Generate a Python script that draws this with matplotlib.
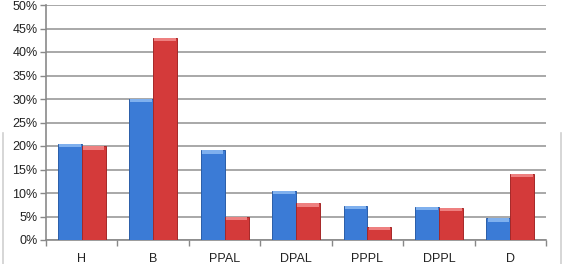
import matplotlib
matplotlib.use("Agg")
import matplotlib.pyplot as plt
import numpy as np
from matplotlib.lines import Line2D

categories = ["H", "B", "PPAL", "DPAL", "PPPL", "DPPL", "D"]
blue_vals = [20.4, 30.1, 19.1, 10.5, 7.3, 7.1, 4.6]
red_vals = [19.9, 43.0, 4.85, 7.8, 2.85, 6.8, 14.0]
yticks = [0, 5, 10, 15, 20, 25, 30, 35, 40, 45, 50]

plt.rcParams['font.family'] = ['Liberation Sans', 'DejaVu Sans']

fig = plt.figure(figsize=(5.63, 2.64), dpi=100)
ax = fig.add_axes([46/563, 24/264, 500/563, 235/264])

x = np.arange(len(categories))
w = 0.335
ax.bar(x - w/2, blue_vals, width=w, color="#3b7bd6", edgecolor="#2a5ea8", linewidth=0.7, zorder=3)
ax.bar(x + w/2, red_vals, width=w, color="#d43a3a", edgecolor="#a52828", linewidth=0.7, zorder=3)
# light highlight band at the top of each bar (glossy look)
band = 0.7
ax.bar(x - w/2, [band] * len(x), bottom=np.array(blue_vals) - band, width=w * 0.9,
       color="#7fb0ee", linewidth=0, zorder=4)
ax.bar(x + w/2, [band] * len(x), bottom=np.array(red_vals) - band, width=w * 0.9,
       color="#ee8080", linewidth=0, zorder=4)

ax.set_xlim(-0.5, len(categories) - 0.5)
ax.set_ylim(0, 50)
ax.set_yticks(yticks)
ax.set_yticklabels([f"{v}%" for v in yticks], fontsize=9, color="#222222")
ax.set_xticks(x)
ax.set_xticklabels(categories, fontsize=9, color="#222222")
ax.set_xticks(np.arange(-0.5, len(categories)), minor=True)
ax.tick_params(axis="x", which="major", length=0, pad=9)
ax.tick_params(axis="x", which="minor", length=4, color="#888888", width=1)
ax.tick_params(axis="y", length=4, color="#888888", width=1, pad=2)

ax.yaxis.grid(True, color="#9a9a9a", linewidth=1.2, zorder=0)
ax.set_axisbelow(True)
for s in ["top", "right"]:
    ax.spines[s].set_visible(False)
for s in ["left", "bottom"]:
    ax.spines[s].set_color("#8a8a8a")
    ax.spines[s].set_linewidth(1.2)

# faint frame lines at the sides
fig.add_artist(Line2D([2.5/563, 2.5/563], [0, 131/264], color="#d0d0d0", linewidth=1.2))
fig.add_artist(Line2D([561/563, 561/563], [0, 131/264], color="#d0d0d0", linewidth=1.2))

fig.savefig("out.png", dpi=100)
